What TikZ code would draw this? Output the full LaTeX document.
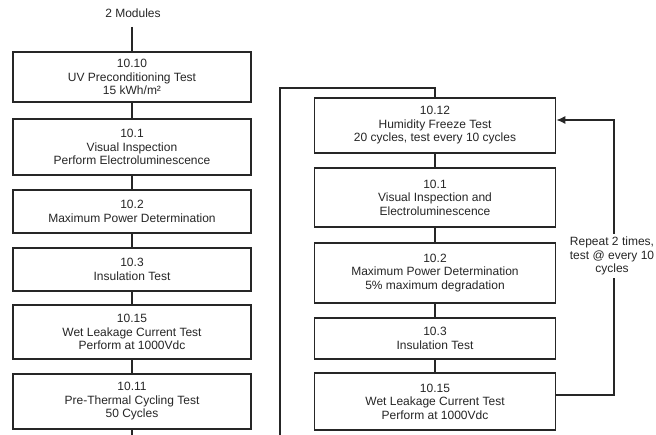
\documentclass[tikz,border=0pt]{standalone}
\usepackage{fontspec}
\setmainfont{Liberation Sans}
\usetikzlibrary{arrows.meta}
\begin{document}
\begin{tikzpicture}[x=1pt,y=-1pt,
  box/.style={draw=black!85, line width=1.1pt, align=center, inner sep=0pt,
    font=\fontsize{12}{13.5}\selectfont, text=black!85},
  lbox/.style={box, minimum width=238pt},
  rbox/.style={box, minimum width=241pt},
  thickbox/.style={line width=1.8pt},
  conn/.style={draw=black!85, line width=1.1pt},
  lbl/.style={align=center, inner sep=0pt, font=\fontsize{12}{13.5}\selectfont, text=black!85}]
\useasboundingbox (0,0) rectangle (656,435);
\fill[white] (0,0) rectangle (656,435);
% left column
\node[lbl] (mods) at (133,13) {2 Modules};
\node[lbox, thickbox, minimum height=50pt] (l1) at (132,77) {10.10\\UV Preconditioning Test\\15 kWh/m²};
\node[lbox, minimum height=56pt] (l2) at (132,147) {10.1\\Visual Inspection\\Perform Electroluminescence};
\node[lbox, minimum height=43pt] (l3) at (132,211.5) {10.2\\Maximum Power Determination};
\node[lbox, minimum height=43pt] (l4) at (132,269.5) {10.3\\Insulation Test};
\node[lbox, minimum height=54pt] (l5) at (132,332) {10.15\\Wet Leakage Current Test\\Perform at 1000Vdc};
\node[lbox, minimum height=55pt] (l6) at (132,401.5) {10.11\\Pre-Thermal Cycling Test\\50 Cycles};
\coordinate (mtop) at (132,27);
\coordinate (lend) at (132,435);
\draw[conn] (mtop) -- (l1.north);
\draw[conn] (l1) -- (l2);
\draw[conn] (l2) -- (l3);
\draw[conn] (l3) -- (l4);
\draw[conn] (l4) -- (l5);
\draw[conn] (l5) -- (l6);
\draw[conn] (l6.south) -- (lend);
% right column
\node[rbox, thickbox, minimum height=55pt] (r1) at (435,125.5) {10.12\\Humidity Freeze Test\\20 cycles, test every 10 cycles};
\node[rbox, minimum height=59pt] (r2) at (435,197.5) {10.1\\Visual Inspection and\\Electroluminescence};
\node[rbox, minimum height=60pt] (r3) at (435,273) {10.2\\Maximum Power Determination\\5\% maximum degradation};
\node[rbox, thickbox, minimum height=41pt] (r4) at (435,338.5) {10.3\\Insulation Test};
\node[rbox, minimum height=57pt] (r5) at (435,401.5) {10.15\\Wet Leakage Current Test\\Perform at 1000Vdc};
\draw[conn] (r1) -- (r2);
\draw[conn] (r2) -- (r3);
\draw[conn] (r3) -- (r4);
\draw[conn] (r4) -- (r5);
% loop from left column
\coordinate (lpb) at (280,435);
\coordinate (lpt) at (280,88);
\draw[conn] (lpb) -- (lpt) -- (lpt -| r1.north) -- (r1.north);
% feedback
\node[lbl] (rep) at (612,256) {Repeat 2 times,\\test @ every 10\\cycles};
\coordinate (fb1) at (614,395);
\coordinate (fb2) at (614,120);
\draw[conn] (r5.east |- fb1) -- (fb1) -- ([yshift=-3pt]fb1 |- rep.south);
\draw[conn, -{Latex[length=9pt,width=8pt]}] ([yshift=3pt]fb2 |- rep.north) -- (fb2) -- (r1.east |- fb2);
\end{tikzpicture}
\end{document}
